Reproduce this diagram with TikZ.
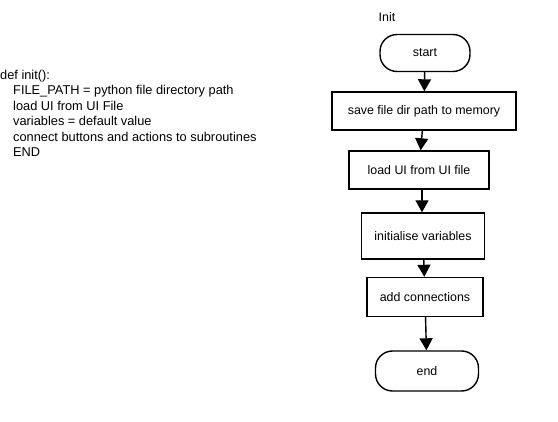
\documentclass[tikz,border=0pt]{standalone}
\usepackage{fontspec}
\setmainfont{Liberation Sans}
\usetikzlibrary{positioning, arrows.meta}

\begin{document}
\begin{tikzpicture}[x=1pt, y=-1pt]
\tikzset{
every node/.style={font=\fontsize{12.4}{15.5}\selectfont}, % same text size everywhere
terminal/.style={draw, line width=1.4pt, rounded corners=17pt, minimum height=37pt}, % start and end
process/.style={draw, line width=1.4pt, minimum height=38pt}, % plain boxes
flow/.style={line width=1.4pt, -{Triangle[length=12pt, width=13pt]}}, % arrows between boxes
}
\useasboundingbox (0,0) rectangle (558,422);

	% pseudo code on the left
	\node[anchor=north west, inner sep=0pt, align=left, font=\fontsize{12.8}{15.5}\selectfont] (code) at (0,70) {def init():\\
	\hspace{13pt}FILE\_PATH = python file directory path\\
	\hspace{13pt}load UI from UI File\\
	\hspace{13pt}variables = default value\\
	\hspace{13pt}connect buttons and actions to subroutines\\
	\hspace{13pt}END};

	% flowchart
	\node (title) at (387,17) {Init};
	\node[terminal, minimum width=90pt] (start) at (425,53) {start};
	\node[process, minimum width=184pt, below of=start, node distance=58pt, xshift=-1pt] (save) {save file dir path to memory};
	\node[process, minimum width=140pt, below of=save, node distance=59pt, xshift=-5pt] (load) {load UI from UI file};
	\node[process, minimum width=123pt, minimum height=46pt, below of=load, node distance=66pt, xshift=4pt] (vars) {initialise variables};
	\node[process, minimum width=116pt, minimum height=39pt, below of=vars, node distance=61pt, xshift=2pt] (conn) {add connections};
	\node[terminal, minimum width=103pt, minimum height=40pt, below of=conn, node distance=74pt, xshift=2pt] (end) {end};

	\draw[flow] (start) -- (save);
	\draw[flow] (save) -- (load);
	\draw[flow] (load.south -| 422,0) -- (vars.north -| 422,0);
	\draw[flow] (conn) -- (end);
	\draw[flow] (vars) -- (conn);
\end{tikzpicture}
\end{document}
